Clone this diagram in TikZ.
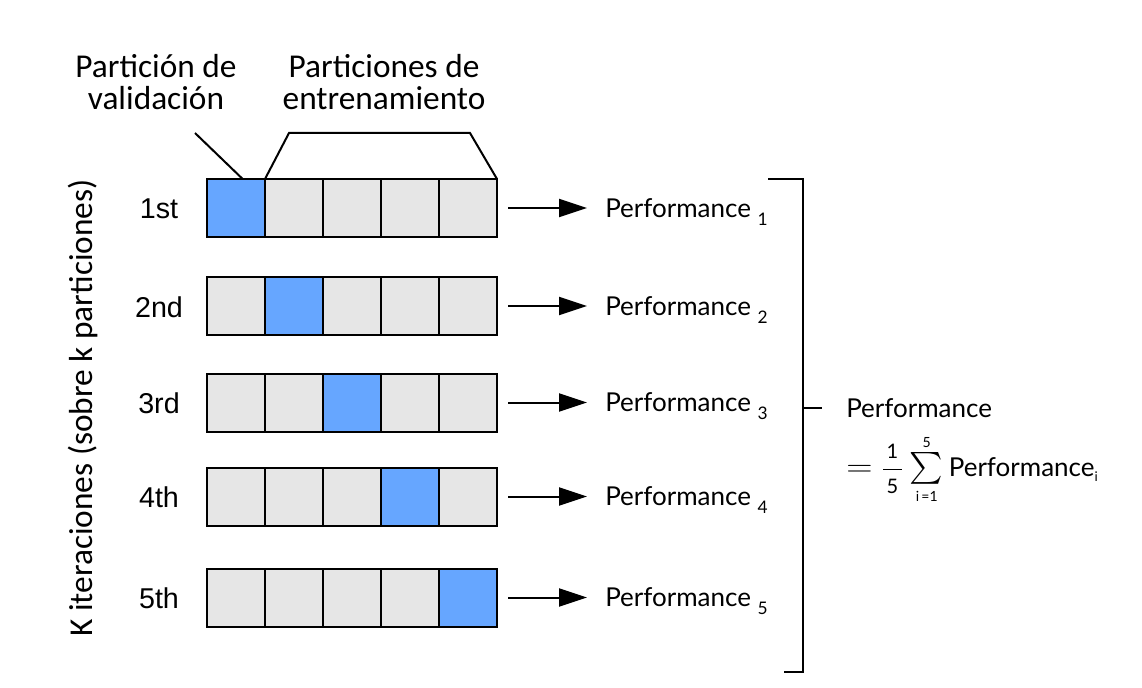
\RequirePackage{fix-cm}
\documentclass[tikz,border=0pt]{standalone}
\usepackage{amsmath}
\usepackage{graphicx}
\usepackage{fontspec}
\setmainfont{Liberation Sans}
\newfontfamily\calfont{Carlito}
\newfontfamily\perffont{Lato}
\usetikzlibrary{arrows.meta}
\definecolor{cellgray}{RGB}{230,230,230}
\definecolor{valblue}{RGB}{102,166,255}
\newcommand{\fracdigit}[1]{\mbox{\perffont\fontsize{15}{15}\selectfont\,#1\,}}
\newcommand{\limdigit}[1]{\mbox{\perffont\fontsize{10.5}{10.5}\selectfont #1}}
\begin{document}
\begin{tikzpicture}[x=0.75pt,y=-0.75pt,
  cell/.style={draw=black, line width=1.5pt, fill=cellgray, minimum width=43.5pt, minimum height=43.5pt, inner sep=0pt, outer sep=0pt},
  val/.style={cell, fill=valblue},
  rowlabel/.style={font=\fontsize{21.5}{21.5}\selectfont, inner sep=0pt, anchor=base},
  perf/.style={font=\perffont\fontsize{19.5}{19.5}\selectfont, inner sep=0pt, anchor=base west},
  toplabel/.style={font=\calfont\fontsize{25}{24}\selectfont, align=center, inner sep=0pt},
  arr/.style={line width=1.5pt, -{Triangle[length=21pt,width=13.5pt]}},
  conn/.style={line width=1.5pt, line join=miter}]
\useasboundingbox (0,0) rectangle (1142,688);

\foreach \r/\y/\lab in {1/208/1st, 2/306/2nd, 3/402.5/3rd, 4/496.5/4th, 5/597.5/5th} {
  \foreach \c in {1,...,5} {
    \ifnum\c=\r \tikzset{cur/.style={val}}\else\tikzset{cur/.style={cell}}\fi
    \node[cur] (r\r c\c) at ({236+58*(\c-1)},\y) {};
  }
  \node[rowlabel] (l\r) at (159,\y+11) {\lab};
  \node[perf] (p\r) at (605,\y+9) {Performance\hspace{5pt}\raisebox{-6pt}{\fontsize{13}{13}\selectfont\r}};
  \draw[arr, shorten <=8.25pt, shorten >=13.5pt] (r\r c5.east) -- (r\r c5.east -| p\r.west);
}

% top labels
\node[toplabel, anchor=base] (tv) at (156,110) {Partición de\\validación};
\node[toplabel, anchor=base] (tt) at (384,110) {Particiones de\\entrenamiento};

% validation pointer
\coordinate (vs) at (195,133);
\draw[conn] (vs) -- ([xshift=5pt]r1c1.north);

% training bracket
\coordinate (ta) at (289,133);
\coordinate (tb) at (470,133);
\draw[conn] (r1c2.north west) -- (ta) -- (tb) -- (r1c5.north east);

% left rotated label
\node[toplabel, rotate=90] (kit) at (83,408) {K iteraciones (sobre k particiones)};

% right bracket
\coordinate (bt) at (768,179);
\coordinate (btr) at (803,179);
\coordinate (bbr) at (803,672);
\coordinate (bb) at (784,672);
\draw[conn] (bt) -- (btr) -- (bbr) -- (bb);
\coordinate (bm) at (803,408);
\coordinate (bme) at (822,408);
\draw[conn] (bm) -- (bme);

% formula
\node[perf] (f1) at (846,417) {Performance};
\node[perf] (f2) at (846,476) {\scalebox{1.4}[1.2]{$=$}\hspace{7pt}$\dfrac{\fracdigit{1}}{\fracdigit{5}}$\hspace{5pt}$\textstyle\mathop{\scalebox{1.15}{$\sum$}}\limits_{\limdigit{i\,=1}}^{\limdigit{5}}$\hspace{4pt}Performance\raisebox{-4pt}{\fontsize{10}{10}\selectfont i}};
\end{tikzpicture}
\end{document}
